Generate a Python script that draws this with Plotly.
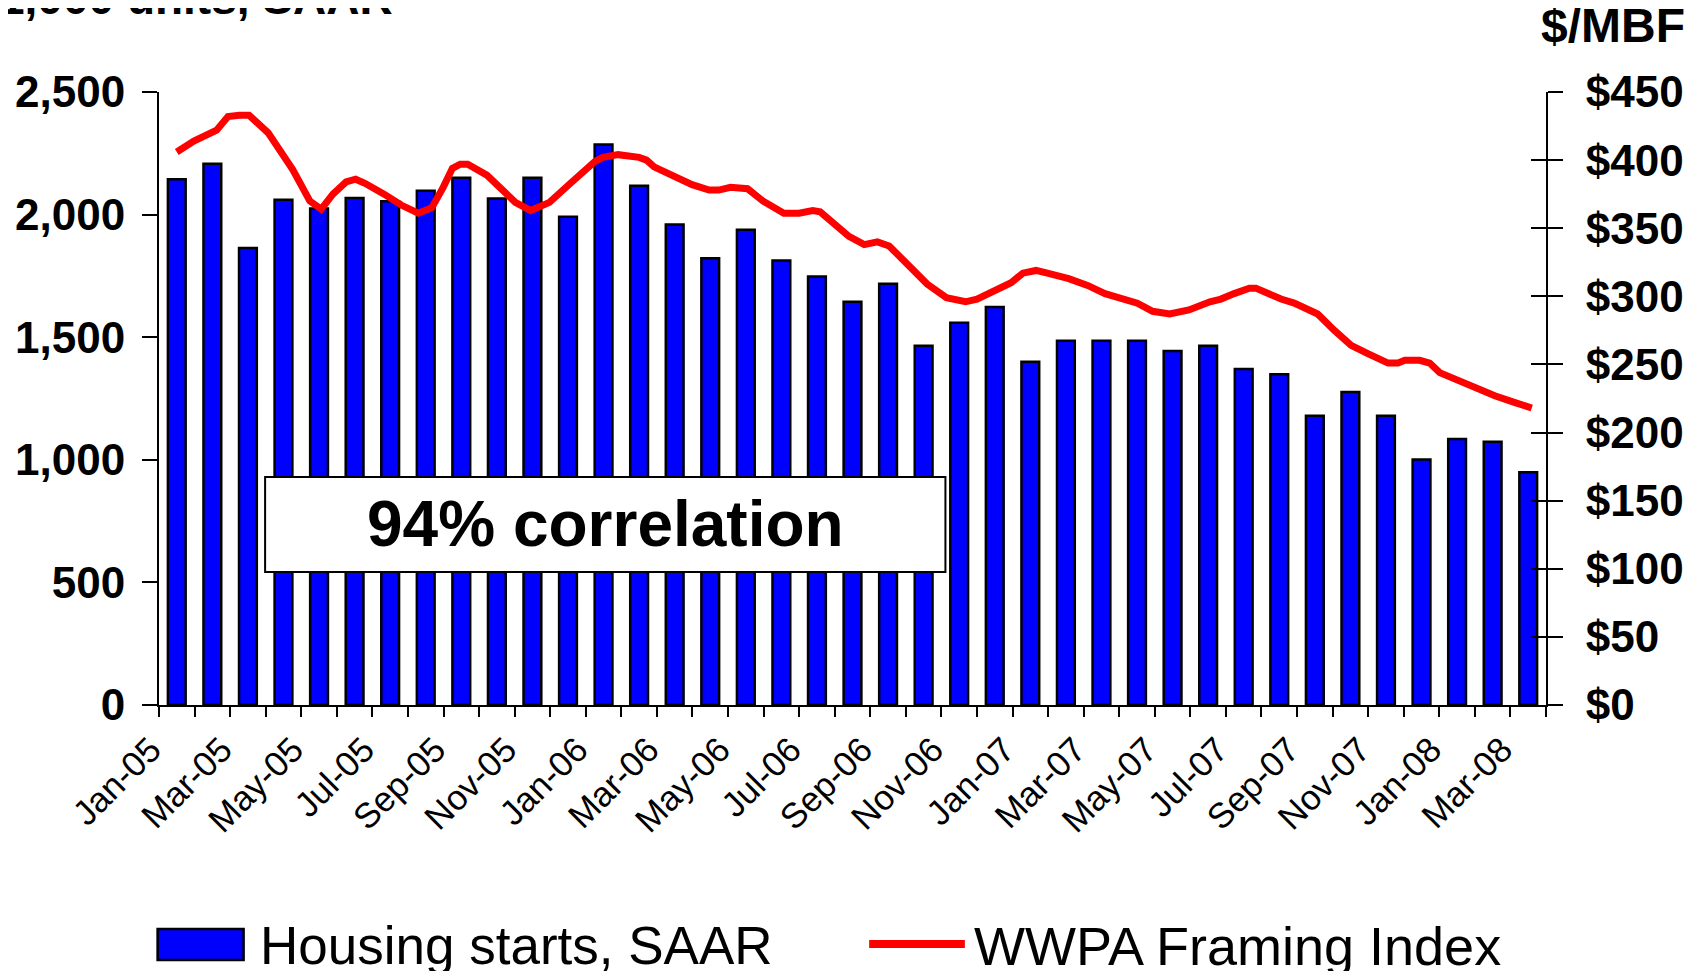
import plotly.graph_objects as go

# monthly housing starts (thousand units, SAAR)
months = ["Jan-05", "Feb-05", "Mar-05", "Apr-05", "May-05", "Jun-05", "Jul-05", "Aug-05",
          "Sep-05", "Oct-05", "Nov-05", "Dec-05", "Jan-06", "Feb-06", "Mar-06", "Apr-06",
          "May-06", "Jun-06", "Jul-06", "Aug-06", "Sep-06", "Oct-06", "Nov-06", "Dec-06",
          "Jan-07", "Feb-07", "Mar-07", "Apr-07", "May-07", "Jun-07", "Jul-07", "Aug-07",
          "Sep-07", "Oct-07", "Nov-07", "Dec-07", "Jan-08", "Feb-08", "Mar-08"]
housing_starts = [2144, 2207, 1864, 2061, 2025, 2068, 2054, 2097, 2150, 2066, 2150, 1991,
                  2286, 2118, 1960, 1822, 1938, 1813, 1748, 1645, 1718, 1465, 1559, 1623,
                  1400, 1486, 1486, 1486, 1444, 1465, 1370, 1349, 1180, 1276, 1180, 1001,
                  1085, 1074, 949]
tick_labels = months[::2]

# WWPA framing index ($/MBF), sampled at fractional month positions
framing_pos = [0, 0.48, 1.12, 1.44, 1.76, 2.03, 2.57, 3.26, 3.74, 4.06, 4.39, 4.76, 5.03,
               5.29, 5.83, 6.31, 6.79, 7.17, 7.49, 7.75, 7.97, 8.18, 8.72, 9.2, 9.52, 9.95,
               10.48, 11.07, 11.76, 11.98, 12.41, 13.0, 13.21, 13.42, 13.96, 14.49, 14.97,
               15.24, 15.57, 16.05, 16.48, 17.07, 17.5, 17.88, 18.09, 18.63, 18.9, 19.33,
               19.7, 20.03, 20.51, 20.89, 21.1, 21.64, 22.18, 22.5, 23.03, 23.46, 23.79,
               24.16, 24.48, 25.08, 25.61, 26.1, 27.01, 27.44, 27.92, 28.46, 29.05, 29.36,
               29.73, 30.16, 30.34, 30.67, 31.05, 31.42, 31.8, 32.08, 32.55, 33.02, 33.49,
               34.06, 34.34, 34.53, 34.95, 35.23, 35.51, 36.03, 36.59, 37.06, 37.63, 38.1]
framing_index = [406, 414, 422, 432, 433, 433, 420, 393, 370, 364, 375, 384, 386, 383, 375,
                 367, 361, 365, 380, 394, 397, 397, 389, 378, 369, 363, 369, 383, 399, 402,
                 404, 402, 400, 395, 388, 382, 378, 378, 380, 379, 370, 361, 361, 363, 362,
                 351, 344, 338, 340, 337, 324, 315, 309, 299, 296, 298, 304, 310, 317, 319,
                 317, 313, 308, 302, 295, 289, 287, 290, 296, 298, 302, 306, 306, 302, 298,
                 295, 291, 287, 275, 264, 258, 251, 251, 253, 253, 251, 244, 238, 232, 227,
                 222, 218]

FONT = "Arial, Liberation Sans, sans-serif"
idx = list(range(len(months)))

fig = go.Figure()
fig.add_trace(go.Bar(
    x=idx, y=housing_starts, width=0.5,
    marker=dict(color="#0000FF", line=dict(color="black", width=2.5)),
    name="Housing starts, SAAR", showlegend=False
))
fig.add_trace(go.Scatter(
    x=framing_pos, y=framing_index, yaxis="y2", mode="lines",
    line=dict(color="#FF0000", width=7),
    name="WWPA Framing Index", showlegend=False
))
# invisible trace so the inner right-axis ticks get drawn
fig.add_trace(go.Scatter(x=[None], y=[None], yaxis="y3", showlegend=False, hoverinfo="skip"))

tick_font = dict(family=FONT, size=44, color="black", weight="bold")

# page body adds an 8px offset, so the figure is 8px smaller than the window
fig.update_layout(
    width=1692, height=963,
    margin=dict(l=151, r=154, t=84, b=266),
    paper_bgcolor="white", plot_bgcolor="white",
    font=dict(family=FONT, color="black"),
    xaxis=dict(
        range=[-0.5, len(months) - 0.5], automargin=False,
        tickvals=[months.index(m) for m in tick_labels], ticktext=tick_labels,
        tickangle=-45, ticks="", showgrid=False, zeroline=False,
        showline=True, linecolor="black", linewidth=2,
        ticklabelshift=-26, ticklabelstandoff=8,
        tickfont=dict(family=FONT, size=35, color="black"),
        minor=dict(tickvals=[i - 0.5 for i in range(len(months) + 1)], ticks="outside",
                   ticklen=10, tickwidth=2, tickcolor="black", showgrid=False),
    ),
    yaxis=dict(
        range=[0, 2500], dtick=500, tickformat=",", showgrid=False, zeroline=False,
        showline=True, linecolor="black", linewidth=2, automargin=False,
        ticks="outside", ticklen=15, tickwidth=2, tickcolor="black",
        tickfont=tick_font, ticklabelstandoff=8,
    ),
    yaxis2=dict(
        range=[0, 450], dtick=50, tickprefix="$", overlaying="y", side="right",
        showgrid=False, zeroline=False, showline=True, linecolor="black", linewidth=2,
        ticks="outside", ticklen=15, tickwidth=2, tickcolor="black", automargin=False,
        tickfont=tick_font, ticklabelstandoff=14,
    ),
    yaxis3=dict(
        range=[0, 450], dtick=50, overlaying="y", side="right", automargin=False,
        showgrid=False, zeroline=False, showline=False, showticklabels=False,
        ticks="inside", ticklen=15, tickwidth=2, tickcolor="black",
    ),
)

# axis titles at the top corners
fig.add_annotation(xref="paper", yref="paper", x=-0.117, y=1.107, xanchor="left", yanchor="bottom",
                   text="<b>1,000 units, SAAR</b>", showarrow=False,
                   font=dict(family=FONT, size=46, color="black"))
fig.add_annotation(xref="paper", yref="paper", x=1.102, y=1.108, xanchor="right", yanchor="middle",
                   text="<b>$/MBF</b>", showarrow=False,
                   font=dict(family=FONT, size=48, color="black"))

# correlation callout
fig.add_shape(type="rect", xref="paper", yref="paper", x0=0.0765, x1=0.567, y0=0.217, y1=0.372,
              fillcolor="white", line=dict(color="black", width=2), layer="above")
fig.add_annotation(xref="paper", yref="paper", x=0.3218, y=0.2945, xanchor="center", yanchor="middle",
                   text="<b>94% correlation</b>", showarrow=False,
                   font=dict(family=FONT, size=64, color="black"))

# legend drawn by hand to match the large swatches
fig.add_shape(type="rect", xref="paper", yref="paper", x0=-0.001, x1=0.061, y0=-0.416, y1=-0.3654,
              fillcolor="#0000FF", line=dict(color="black", width=2.5))
fig.add_annotation(xref="paper", yref="paper", x=0.0715, y=-0.393, xanchor="left", yanchor="middle",
                   text="Housing starts, SAAR", showarrow=False,
                   font=dict(family=FONT, size=53, color="black"))
fig.add_shape(type="line", xref="paper", yref="paper", x0=0.512, x1=0.581, y0=-0.39, y1=-0.39,
              line=dict(color="#FF0000", width=8))
fig.add_annotation(xref="paper", yref="paper", x=0.586, y=-0.393, xanchor="left", yanchor="middle",
                   text="WWPA Framing Index", showarrow=False,
                   font=dict(family=FONT, size=54, color="black"))

fig.write_html("out.html")
